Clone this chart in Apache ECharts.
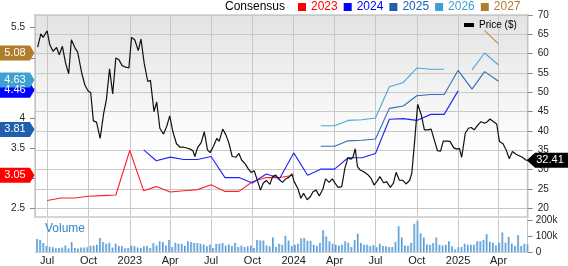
<!DOCTYPE html>
<html><head><meta charset="utf-8">
<script src="https://cdn.jsdelivr.net/npm/echarts@6/dist/echarts.min.js"></script>
<style>html,body{margin:0;padding:0;background:#fff}#c{width:568px;height:266px}</style>
</head><body><div id="c"></div>
<script>
// ---------- data ----------
const baseDate = '2022-07-01';
// price: days since baseDate, closing price ($)
const priceDays = [-21,-14,-9,0,6,13,21,27,34,41,48,54,62,68,77,84,91,97,103,110,118,126,132,139,146,153,160,167,175,182,188,195,203,209,216,224,230,238,244,251,259,266,273,280,288,296,304,311,319,325,329,335,343,350,357,363,370,378,383,391,398,405,412,420,427,433,441,448,454,461,467,475,481,488,496,502,509,516,524,531,538,545,550,558,565,571,579,586,592,599,606,614,620,628,635,641,648,656,663,670,676,681,686,691,697,704,715,721,728,734,741,749,756,764,771,777,784,792,799,807,812,818,825,833,840,848,855,862,869,876,882,890,897,905,912,918,923,931,938,944,951,958,966,974,980,986,994,1001,1007,1015,1022,1029,1036,1044,1051,1058,1066,1069];
const priceValues = [61.7,65.1,64.2,65.9,62.3,60.6,61.6,59.7,61.9,57.6,54.8,63.6,61.5,60.4,55.0,51.9,50.4,49.9,42.6,42.3,38.1,44.6,48.1,56.1,49.6,58.9,58.4,56.9,56.5,56.3,64.2,63.6,60.8,63.8,57.6,52.8,53.1,45.0,47.5,40.7,39.2,41.1,43.9,39.8,36.7,35.8,35.8,35.6,35.3,34.8,33.4,35.7,37.0,39.8,35.1,34.4,36.0,38.1,37.3,40.5,39.0,36.8,33.4,33.2,34.2,32.5,31.5,30.2,29.3,29.7,27.6,24.7,26.5,27.2,26.2,28.2,28.6,27.5,26.7,27.6,28.0,28.9,26.9,25.2,22.6,23.9,22.2,23.0,24.3,24.7,23.2,25.0,27.6,26.7,27.6,26.5,25.4,25.6,30.4,33.1,32.7,33.2,35.4,30.8,29.9,29.5,28.6,27.8,26.0,26.9,28.2,26.6,26.9,25.4,26.5,29.3,27.3,27.2,26.3,27.2,29.1,37.0,46.9,44.2,40.3,40.3,40.5,37.7,34.9,34.8,37.4,37.4,37.3,35.7,35.3,35.5,33.2,39.4,40.7,40.9,40.3,41.4,42.4,42.0,42.4,43.1,42.4,41.8,37.3,36.7,35.1,32.8,34.7,34.0,33.6,33.2,32.5,32.41];
// weekly volume (thousands), first week below
const volumeStart = '2022-06-09';
const volumeK = [83,77,57,38,32,30,24,26,28,42,22,63,26,22,28,28,30,40,40,46,89,63,53,59,28,53,38,38,24,26,42,36,28,26,36,38,26,57,42,69,63,42,77,32,59,53,53,40,69,63,57,57,53,48,36,48,26,53,53,57,42,48,38,57,32,42,32,36,42,26,77,73,73,42,36,93,32,53,46,
103,73,38,46,53,87,89,71,71,46,40,57,139,99,69,53,46,42,46,69,59,32,77,117,57,46,46,38,44,30,53,38,36,32,32,65,164,93,42,40,59,180,198,119,93,48,46,57,93,46,42,46,69,36,18,30,32,53,46,46,46,69,69,77,113,65,59,42,59,125,59,97,53,38,107,38,53,48];
// monthly consensus EPS
const consensusMonths = ['2022-07','2022-08','2022-09','2022-10','2022-11','2022-12','2023-01','2023-02','2023-03','2023-04','2023-05','2023-06','2023-07','2023-08','2023-09','2023-10','2023-11','2023-12','2024-01','2024-02','2024-03','2024-04','2024-05','2024-06','2024-07','2024-08','2024-09','2024-10','2024-11','2024-12','2025-01','2025-02','2025-03','2025-04'];
const _ = null;
const eps2023 = [2.63,2.67,2.67,2.70,2.71,2.72,3.46,2.79,2.86,2.77,2.79,2.81,2.89,2.78,2.78,2.94,3.01,3.01,3.05,_,_,_,_,_,_,_,_,_,_,_,_,_,_,_];
const eps2024 = [_,_,_,_,_,_,_,3.47,3.29,3.35,3.31,3.31,3.36,3.01,3.01,2.92,3.07,3.00,3.42,3.05,3.15,3.15,3.34,3.34,3.41,3.98,3.99,3.96,4.06,4.06,4.45,_,_,_];
const eps2025 = [_,_,_,_,_,_,_,_,_,_,_,_,_,_,_,_,_,_,_,_,3.53,3.53,3.62,3.63,3.65,4.16,4.20,4.37,4.39,4.39,4.79,4.48,4.77,4.61];
const eps2026 = [_,_,_,_,_,_,_,_,_,_,_,_,_,_,_,_,_,_,_,_,3.87,3.87,3.96,3.97,4.00,4.52,4.59,4.83,4.81,4.81,_,4.80,5.08,4.88];
const eps2027 = [_,_,_,_,_,_,_,_,_,_,_,_,_,_,_,_,_,_,_,_,_,_,_,_,_,_,_,_,_,_,_,_,5.45,5.23];
const consensusYears = ['2023','2024','2025','2026','2027'];
const consensusColors = ['#ff0000','#0000ff','#1f5fae','#3ea2d0','#b07d2b'];
const lineColors = ['#ff2020','#2020ff','#2f6db5','#4aa8d8','#c08a45'];
// current consensus badges
const badgeOrder = ['2023','2025','2024','2026','2027'];
const badgeValues = {'2023':3.05,'2024':4.46,'2025':3.81,'2026':4.63,'2027':5.08};
const lastPrice = 32.41;
// axes
const xRange = ['2022-06-04','2025-06-05'];
const xTickDates = ['2022-07-01','2022-10-01','2023-01-01','2023-04-01','2023-07-01','2023-10-01','2024-01-01','2024-04-01','2024-07-01','2024-10-01','2025-01-01','2025-04-01'];
const monthNames = ['Jan','Feb','Mar','Apr','May','Jun','Jul','Aug','Sep','Oct','Nov','Dec'];
const priceTicks = [20,25,30,35,40,45,50,55,60,65,70];
const priceRange = [17.75,70];
const epsTicks = [2.5,3,3.5,4,4.5,5,5.5];
const epsLabels = [2.5,3.5,4,5.5];
const epsRange = [2.355,5.711];
const volTicks = [0,50,100,150,200];
const volRange = [0,210.3];

// ---------- helpers ----------
const DAY = 86400000;
function ts(s){const p=s.split('-').map(Number);return Date.UTC(p[0],p[1]-1,p[2]||1);}
const base = ts(baseDate);
const FONT = 'Liberation Sans, Arial, sans-serif';

const priceData = priceDays.map((d,i)=>[base + d*DAY, priceValues[i]]);
const volData = volumeK.map((v,i)=>[ts(volumeStart) + i*7*DAY, v]);
const epsSets = [eps2023,eps2024,eps2025,eps2026,eps2027];
const xTicks = xTickDates.map(ts);

const chart = echarts.init(document.getElementById('c'), null, {renderer:'canvas'});
const gridCommon = {left:35, right:40.3};
const option = {
  animation:false,
  textStyle:{fontFamily:FONT},
  grid:[
    Object.assign({top:15, height:202, show:true, borderColor:'#d6d6d6', borderWidth:2,
      backgroundColor:new echarts.graphic.LinearGradient(0,0,0,1,[{offset:0,color:'#e3e3e3'},{offset:0.5,color:'#f8f8f8'},{offset:0.68,color:'#ffffff'},{offset:1,color:'#ffffff'}])}, gridCommon),
    Object.assign({top:219, height:34.7}, gridCommon)
  ],
  legend:[
    {left:298, top:1, padding:0, itemWidth:8, itemHeight:8, itemGap:6, icon:'rect', selectedMode:false,
     textStyle:{fontSize:12, fontFamily:FONT},
     data:consensusYears.map((y,i)=>({name:y, textStyle:{color:consensusColors[i]}, itemStyle:{color:consensusColors[i]}}))},
    {left:464, top:20, padding:0, itemWidth:10, itemHeight:4, icon:'rect', selectedMode:false,
     textStyle:{fontSize:10, color:'#000', fontFamily:FONT}, data:[{name:'Price ($)', itemStyle:{color:'#000'}}]}
  ],
  xAxis:[
    {type:'value', gridIndex:0, min:ts(xRange[0]), max:ts(xRange[1]),
     axisLine:{show:false}, axisTick:{show:false, customValues:xTicks}, axisLabel:{show:false, customValues:xTicks},
     splitLine:{show:true, lineStyle:{color:'#c8c8c8', width:1}}},
    {type:'value', gridIndex:1, min:ts(xRange[0]), max:ts(xRange[1]),
     axisLine:{show:true, lineStyle:{color:'#d0d0d0'}}, axisTick:{show:false, customValues:xTicks},
     axisLabel:{customValues:xTicks, margin:3, fontSize:11, color:'#222', fontFamily:FONT, hideOverlap:false,
       formatter:function(v){const d=new Date(v);const m=d.getUTCMonth();return m===0?String(d.getUTCFullYear()):monthNames[m];}},
     splitLine:{show:true, lineStyle:{color:'#c8c8c8', width:1}}}
  ],
  yAxis:[
    {type:'value', gridIndex:0, position:'left', min:epsRange[0], max:epsRange[1],
     axisLine:{show:true, lineStyle:{color:'#c4c4c4'}},
     axisTick:{show:true, length:5, customValues:epsTicks, lineStyle:{color:'#888'}},
     axisLabel:{customValues:epsLabels, margin:10, fontSize:10, color:'#222', fontFamily:FONT, formatter:v=>String(v)},
     splitLine:{show:false}},
    {type:'value', gridIndex:0, position:'right', min:priceRange[0], max:priceRange[1],
     axisLine:{show:true, lineStyle:{color:'#c4c4c4'}},
     axisTick:{show:true, length:5, customValues:priceTicks, lineStyle:{color:'#888'}},
     axisLabel:{customValues:priceTicks, margin:10, fontSize:10, color:'#222', fontFamily:FONT},
     splitLine:{show:true, lineStyle:{color:'#c8c8c8', width:1}}},
    {type:'value', gridIndex:1, position:'right', min:volRange[0], max:volRange[1],
     axisLine:{show:true, lineStyle:{color:'#c4c4c4'}},
     axisTick:{show:true, length:5, customValues:volTicks, lineStyle:{color:'#888'}},
     axisLabel:{customValues:volTicks, margin:8, fontSize:10, color:'#222', fontFamily:FONT,
       showMinLabel:true, showMaxLabel:true, hideOverlap:false, formatter:v=>v===0?'0':v+'k'},
     splitLine:{show:false}}
  ],
  series:[]
};
consensusYears.forEach((y,i)=>{
  option.series.push({name:y, type:'line', xAxisIndex:0, yAxisIndex:0, showSymbol:false, symbol:'none',
    connectNulls:false, color:consensusColors[i], lineStyle:{color:lineColors[i], width:1.1},
    data:consensusMonths.map((m,k)=>[ts(m), epsSets[i][k]===null?'-':epsSets[i][k]]), z:3});
});
option.series.push({name:'Volume', type:'bar', xAxisIndex:1, yAxisIndex:2, barWidth:2,
  itemStyle:{color:new echarts.graphic.LinearGradient(0,0,1,0,[{offset:0,color:'#3a86cc'},{offset:1,color:'#acd2f0'}])},
  data:volData});
option.series.push({name:'Price ($)', type:'line', xAxisIndex:0, yAxisIndex:1, showSymbol:false, symbol:'none',
  color:'#000', lineStyle:{color:'#111', width:1.2}, data:priceData, z:5});
chart.setOption(option);

// badges and labels placed through the axes' scales
const g = [];
g.push({type:'text', x:225, y:7, style:{text:'Consensus', fill:'#000', font:'12px '+FONT, align:'left', verticalAlign:'middle'}});
g.push({type:'text', x:45, y:229, style:{text:'Volume', fill:'#2f86cc', font:'12px '+FONT, align:'left', verticalAlign:'middle'}, z:10});
badgeOrder.forEach(y=>{
  const v = badgeValues[y];
  const py = chart.convertToPixel({yAxisIndex:0}, v);
  const col = consensusColors[consensusYears.indexOf(y)];
  g.push({type:'polygon', shape:{points:[[0,py-7.5],[30,py-7.5],[34.5,py],[30,py+7.5],[0,py+7.5]]}, style:{fill:col}, z:20});
  g.push({type:'text', x:15, y:py, style:{text:v.toFixed(2), fill:'#fff', font:'11px '+FONT, align:'center', verticalAlign:'middle'}, z:21});
});
const pp = chart.convertToPixel({yAxisIndex:1}, lastPrice);
g.push({type:'polygon', shape:{points:[[526.7,pp],[535,pp-7.5],[568,pp-7.5],[568,pp+7.5],[535,pp+7.5]]}, style:{fill:'#000'}, z:20});
g.push({type:'text', x:550, y:pp, style:{text:lastPrice.toFixed(2), fill:'#fff', font:'11px '+FONT, align:'center', verticalAlign:'middle'}, z:21});
chart.setOption({graphic:g});
</script></body></html>
